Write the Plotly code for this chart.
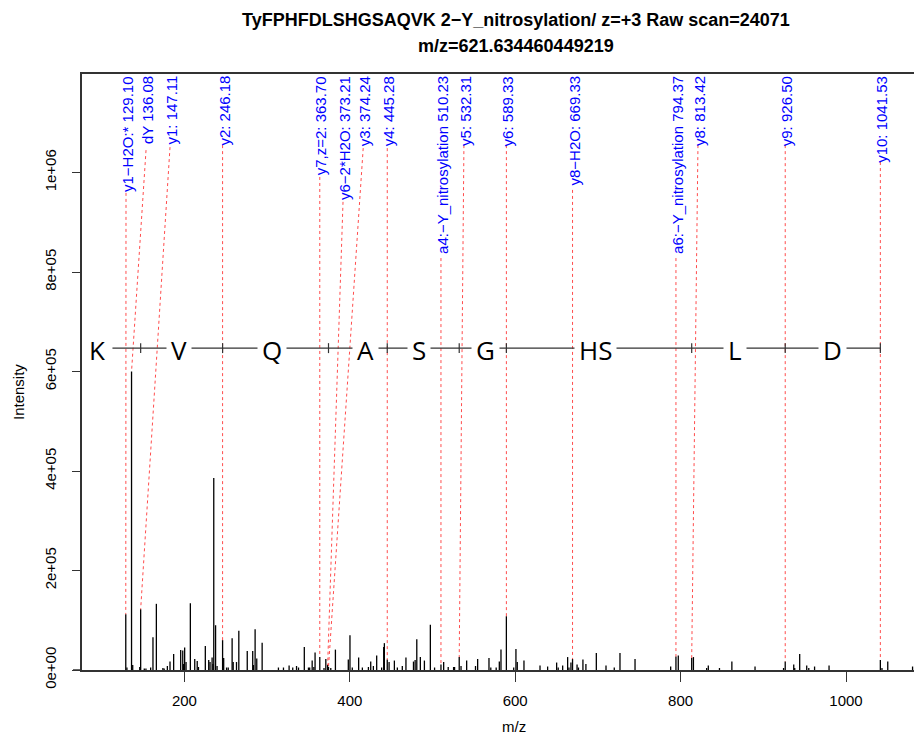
import plotly.graph_objects as go

# ---------------- data ----------------
peak_mz = [129.10, 130.5, 136.08, 137.5, 146.0, 147.11, 151.5, 153.5, 159.2, 162.0, 166.1, 174.0,
           175.5, 179.4, 182.6, 187.0, 195.5, 198.0, 199.0, 200.3, 202.0, 207.2, 212.5, 215.5,
           217.0, 225.3, 229.4, 231.0, 233.5, 234.5, 235.5, 237.7, 239.5, 246.18, 247.5, 251.0,
           253.0, 257.7, 259.0, 263.0, 265.8, 276.0, 282.6, 283.5, 285.5, 287.5, 294.0, 313.7,
           319.8, 326.6, 331.0, 335.6, 338.0, 345.0, 350.0, 351.5, 354.5, 356.5, 358.0, 363.70,
           368.8, 371.0, 373.21, 374.24, 377.0, 382.6, 398.2, 400.2, 403.0, 410.7, 415.2, 422.5,
           425.3, 428.5, 432.5, 438.5, 441.0, 441.8, 445.28, 447.5, 453.9, 457.5, 463.5, 467.9,
           477.0, 479.0, 481.0, 485.3, 490.2, 497.4, 502.5, 510.23, 513.5, 519.0, 525.5, 526.7,
           532.31, 534.5, 541.3, 552.0, 554.6, 568.3, 570.5, 577.0, 580.8, 582.8, 589.33, 598.2,
           600.9, 602.5, 610.6, 630.0, 639.2, 650.1, 652.0, 657.4, 663.4, 665.0, 667.4, 669.33,
           674.8, 676.5, 681.9, 685.5, 698.1, 709.8, 719.8, 726.7, 744.9, 788.0, 794.37, 797.2,
           813.42, 815.5, 831.5, 833.5, 847.0, 862.0, 890.0, 924.5, 926.50, 936.8, 938.0, 944.0,
           952.5, 955.0, 962.0, 979.5, 1041.53, 1043.5, 1050.5, 1080.5]
peak_int = [112000, 5000, 600000, 10000, 6000, 122000, 3000, 3000, 5000, 66000, 133000, 4000,
            3000, 8000, 17000, 32000, 40000, 39000, 12000, 45000, 16000, 134000, 22000, 18000,
            6000, 48000, 20000, 16000, 25000, 12000, 386000, 90000, 8000, 60000, 24000, 5000,
            5000, 64000, 16000, 16000, 79000, 38000, 38000, 10000, 82000, 23000, 55000, 5000,
            5000, 9000, 5000, 8000, 5000, 46000, 5000, 5000, 19000, 6000, 35000, 26000,
            4000, 22000, 10000, 6000, 4000, 41000, 21000, 70000, 5000, 25000, 5000, 6000,
            17000, 8000, 29000, 5000, 46000, 54000, 21000, 16000, 19000, 5000, 8000, 25000,
            17000, 20000, 62000, 26000, 19000, 91000, 5000, 11000, 16000, 6000, 6000, 6000,
            26000, 8000, 19000, 8000, 22000, 24000, 5000, 5000, 17000, 41000, 108000, 5000,
            42000, 16000, 19000, 9000, 7000, 15000, 5000, 9000, 26000, 5000, 15000, 22000,
            11000, 5000, 21000, 12000, 34000, 9000, 5000, 34000, 22000, 7000, 27000, 29000,
            24000, 26000, 4000, 9000, 4000, 17000, 7000, 4000, 17000, 11000, 4000, 32000,
            9000, 4000, 7000, 9000, 20000, 4000, 17000, 7000]

label_text = ["y1\u2212H2O:* 129.10", "dY 136.08", "y1: 147.11", "y2: 246.18", "y7,z=2: 363.70",
              "y6\u22122*H2O: 373.21", "y3: 374.24", "y4: 445.28", "a4:\u2212Y_nitrosylation 510.23",
              "y5: 532.31", "y6: 589.33", "y8\u2212H2O: 669.33", "a6:\u2212Y_nitrosylation 794.37",
              "y8: 813.42", "y9: 926.50", "y10: 1041.53"]
label_mz = [129.10, 136.08, 147.11, 246.18, 363.70, 373.21, 374.24, 445.28, 510.23,
            532.31, 589.33, 669.33, 794.37, 813.42, 926.50, 1041.53]
label_int = [112000, 600000, 122000, 60000, 26000, 10000, 6000, 21000, 11000,
             26000, 108000, 22000, 27000, 24000, 17000, 20000]
label_pos = [129.4, 153.6, 182.6, 246.18, 363.70, 391.8, 416.2, 445.28, 510.23,
             538.0, 589.33, 669.33, 794.37, 821.0, 926.50, 1041.53]
label_end = [959000, 1045000, 1051000, 1055000, 991000, 941000, 1049000, 1049000, 828000,
             1055000, 1055000, 965000, 828000, 1055000, 1055000, 1021000]

pep_ticks = [147.11, 246.18, 374.24, 445.28, 532.31, 589.33, 813.42, 926.50, 1041.53]
pep_start = 113.0
pep_letters = ["K", "V", "Q", "A", "S", "G", "HS", "L", "D"]
pep_letter_mz = [94.3, 193.5, 305.5, 419.2, 484.0, 563.5, 696.5, 865.8, 983.9]

y_tickvals = [0, 200000, 400000, 600000, 800000, 1000000]
y_ticktext = ["0e+00", "2e+05", "4e+05", "6e+05", "8e+05", "1e+06"]
x_tickvals = [200, 400, 600, 800, 1000]

title_1 = "TyFPHFDLSHGSAQVK 2\u2212Y_nitrosylation/ z=+3 Raw scan=24071"
title_2 = "m/z=621.634460449219"

# ---------------- layout constants ----------------
PEP_Y = 647000
PEP_TICK = 10000
FONT = "Liberation Sans, Arial, sans-serif"

# the page body has an 8px margin, so the figure starts at (8, 8) of the window
OFF = 8
W, H = 922 - OFF, 739 - OFF
L, R, T = 82 - OFF, 0, 74 - OFF
B = H - (670 - OFF)
pw, ph = W - L - R, H - T - B


def paper_x(xpx):
    return (xpx - OFF - L) / pw


def paper_y(ypx):
    return (H - B - (ypx - OFF)) / ph


fig = go.Figure()

# spectrum peaks (type="h")
px, py = [], []
for m, i in zip(peak_mz, peak_int):
    px += [m, m, None]
    py += [0, i, None]
fig.add_trace(go.Scatter(x=px, y=py, mode="lines", line=dict(color="black", width=1.3),
                         hoverinfo="skip", showlegend=False))

# red dotted connectors
lx, ly = [], []
for p, e, m, i in zip(label_pos, label_end, label_mz, label_int):
    lx += [p, m, None]
    ly += [e, i, None]
fig.add_trace(go.Scatter(x=lx, y=ly, mode="lines",
                         line=dict(color="rgba(255,0,0,0.7)", width=1, dash="dot"),
                         hoverinfo="skip", showlegend=False))

# peptide ladder
fig.add_trace(go.Scatter(x=[pep_start, pep_ticks[-1]], y=[PEP_Y, PEP_Y], mode="lines",
                         line=dict(color="#333", width=1.2), hoverinfo="skip", showlegend=False))
tx, ty = [], []
for t in pep_ticks:
    tx += [t, t, None]
    ty += [PEP_Y - PEP_TICK, PEP_Y + PEP_TICK, None]
fig.add_trace(go.Scatter(x=tx, y=ty, mode="lines", line=dict(color="#333", width=1.2),
                         hoverinfo="skip", showlegend=False))

annotations = []
for t, p in zip(label_text, label_pos):
    annotations.append(dict(x=p, y=1, xref="x", yref="paper", text=t, textangle=-90,
                            showarrow=False, xanchor="center", yanchor="top", xshift=1, yshift=-1,
                            font=dict(family=FONT, size=15, color="#0000FF"), borderpad=0))
for l, m in zip(pep_letters, pep_letter_mz):
    annotations.append(dict(x=m, y=PEP_Y, xref="x", yref="y", text=l, showarrow=False,
                            xanchor="center", yanchor="middle", bgcolor="white", borderpad=4,
                            yshift=-2,
                            font=dict(family="Open Sans, sans-serif", size=26, color="black")))

annotations += [
    dict(x=paper_x(516), y=paper_y(20), xref="paper", yref="paper", text="<b>%s</b>" % title_1,
         showarrow=False, xanchor="center", yanchor="middle",
         font=dict(family=FONT, size=18, color="black")),
    dict(x=paper_x(516), y=paper_y(46), xref="paper", yref="paper", text="<b>%s</b>" % title_2,
         showarrow=False, xanchor="center", yanchor="middle",
         font=dict(family=FONT, size=18, color="black")),
    dict(x=paper_x(18), y=paper_y(392), xref="paper", yref="paper", text="Intensity",
         textangle=-90, showarrow=False, xanchor="center", yanchor="middle",
         font=dict(family=FONT, size=15, color="black")),
    dict(x=paper_x(514), y=paper_y(726), xref="paper", yref="paper", text="m/z",
         showarrow=False, xanchor="center", yanchor="middle",
         font=dict(family=FONT, size=15, color="black")),
]

x_lo = (82 - 19) / 0.827
x_hi = (922 - 19) / 0.827

fig.update_layout(
    width=W, height=H, margin=dict(l=L, r=R, t=T, b=B, pad=0),
    paper_bgcolor="white", plot_bgcolor="white", showlegend=False,
    annotations=annotations,
    xaxis=dict(range=[x_lo, x_hi], tickvals=x_tickvals, ticks="outside", ticklen=10,
               tickcolor="#333", tickwidth=1.2, showline=True, linecolor="#333", linewidth=1.5,
               mirror=True, showgrid=False, zeroline=False,
               tickfont=dict(family=FONT, size=15, color="black"), ticklabelstandoff=6),
    yaxis=dict(range=[0, 1.198e6], tickvals=y_tickvals, ticktext=y_ticktext, tickangle=-90,
               ticks="outside", ticklen=8, tickcolor="#333", tickwidth=1.2, showline=True,
               linecolor="#333", linewidth=1.5, mirror=False, showgrid=False, zeroline=False,
               tickfont=dict(family=FONT, size=15, color="black"), ticklabelstandoff=10),
    shapes=[dict(type="line", xref="paper", yref="paper", x0=paper_x(73), x1=0, y0=0, y1=0,
                 line=dict(color="#333", width=1.5))],
)

fig.write_html("out.html")
